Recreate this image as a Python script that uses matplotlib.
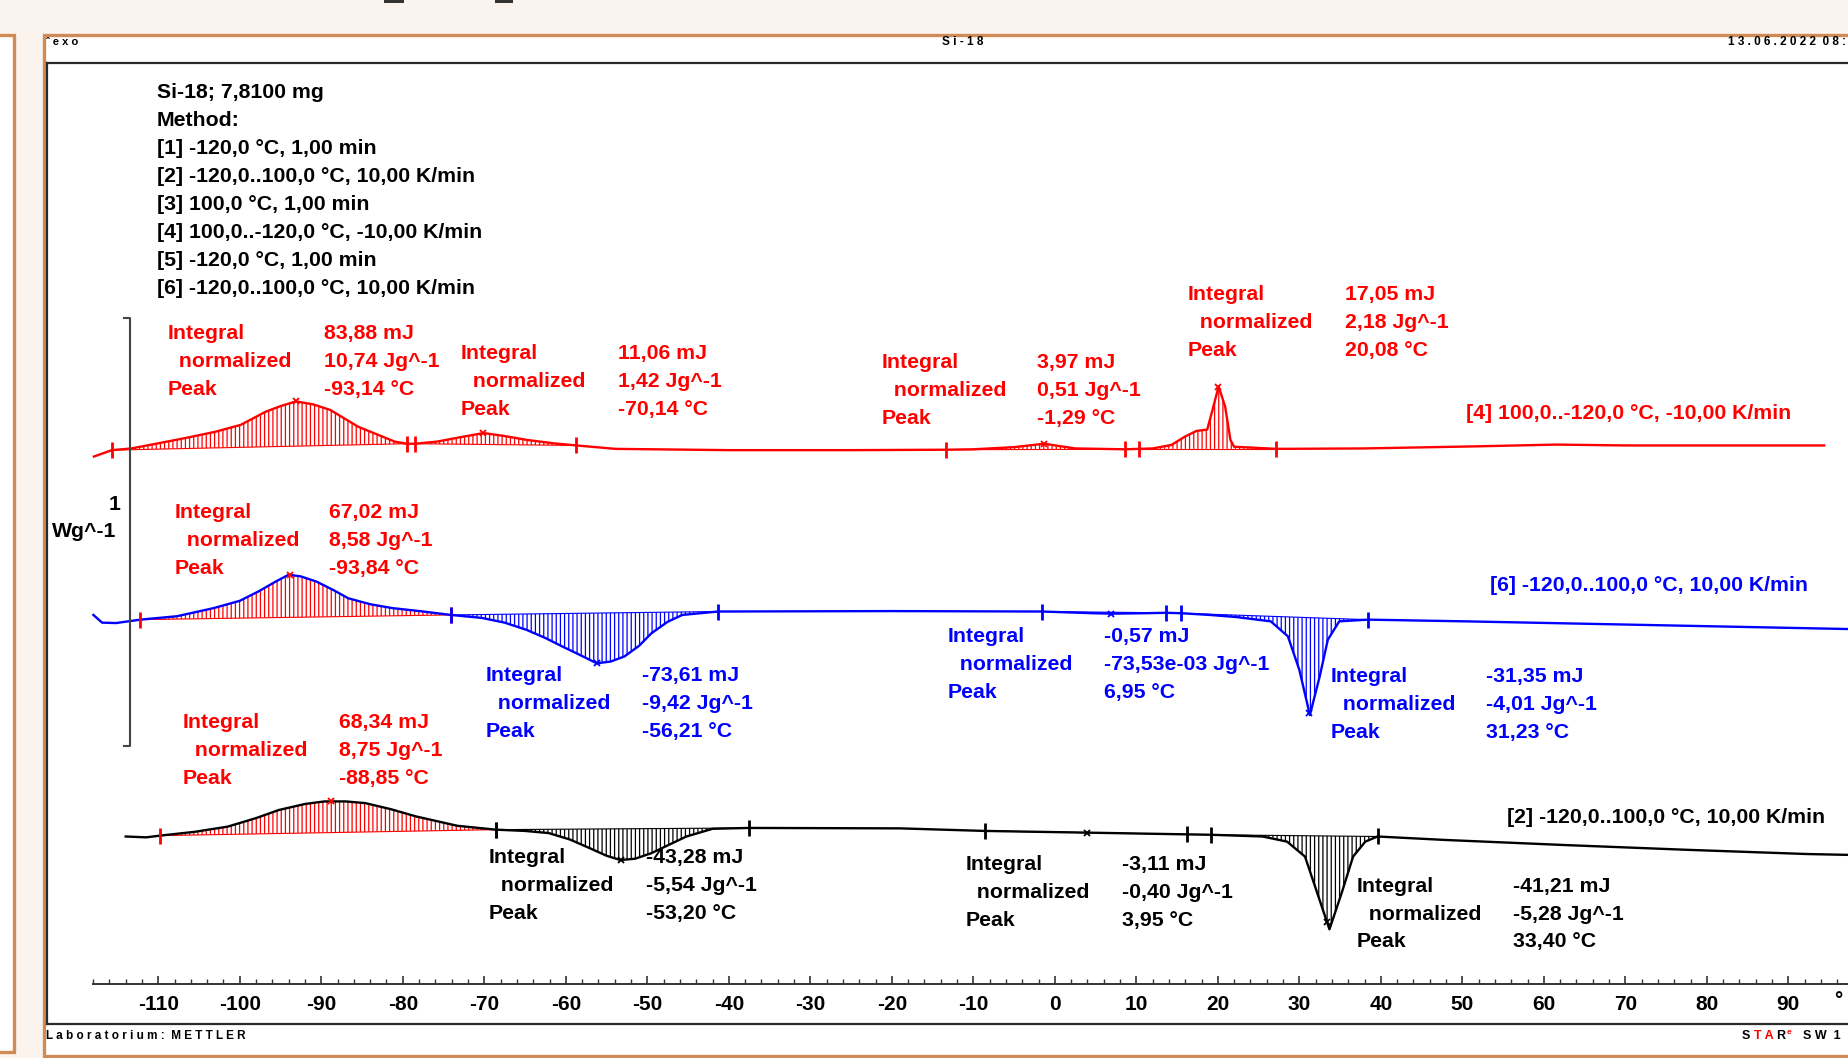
import numpy as np
import matplotlib.pyplot as plt
from matplotlib.patches import Rectangle

plt.rcParams['font.family'] = ['Liberation Sans', 'DejaVu Sans']
plt.rcParams['axes.unicode_minus'] = False
plt.rcParams['hatch.linewidth'] = 0.9

# heat flow in W/g, each curve around its own baseline
# [4] cooling 100..-120 (red)
cool_T = [-117.9, -115.7, -113.3, -110.0, -106.5, -103.0, -99.9, -96.8, -95.0, -93.1,
          -91.0, -88.9, -85.5, -81.0, -79.5, -78.5, -75.8, -73.0, -70.1, -67.5,
          -64.8, -61.5, -58.7, -53.9, -40.0, -25.0, -13.3, -10.0, -5.0, -1.3,
          2.5, 8.6, 10.3, 12.0, 14.3, 16.0, 17.4, 18.7, 19.35, 20.1,
          20.9, 21.55, 22.0, 27.2, 38.0, 52.0, 61.5, 70.0, 80.0, 94.4]
cool_W = [-0.018, -0.003, 0.001, 0.013, 0.026, 0.040, 0.056, 0.087, 0.100, 0.111,
          0.104, 0.091, 0.052, 0.017, 0.012, 0.012, 0.017, 0.027, 0.037, 0.030,
          0.021, 0.013, 0.008, 0.000, -0.003, -0.003, -0.002, -0.001, 0.004, 0.012,
          0.001, -0.001, 0.000, 0.001, 0.009, 0.029, 0.042, 0.045, 0.091, 0.146,
          0.099, 0.021, 0.005, 0.000, 0.001, 0.006, 0.010, 0.008, 0.008, 0.008]

# [6] second heating -120..100 (blue)
heat2_T = [-117.96, -116.9, -115.2, -112.2, -107.7, -103.2, -100.0, -97.7, -95.5, -94.0,
           -92.5, -90.6, -88.5, -86.7, -84.0, -81.3, -77.5, -74.1, -70.3, -67.5,
           -64.8, -62.5, -60.4, -58.0, -56.2, -54.5, -52.8, -51.0, -49.5, -47.5,
           -45.7, -41.3, -20.0, -1.6, 4.7, 7.1, 11.0, 13.7, 15.5, 19.0,
           22.3, 26.5, 28.6, 30.0, 31.3, 32.5, 33.5, 34.9, 38.4, 50.4, 71.4, 100.0]
heat2_W = [-0.008, -0.026, -0.027, -0.019, -0.011, 0.008, 0.025, 0.047, 0.071, 0.086,
           0.082, 0.070, 0.050, 0.031, 0.017, 0.008, 0.000, -0.008, -0.015, -0.026,
           -0.043, -0.062, -0.082, -0.104, -0.121, -0.117, -0.105, -0.080, -0.051, -0.024,
           -0.008, 0.000, 0.001, 0.000, -0.004, -0.005, -0.004, -0.003, -0.004, -0.008,
           -0.013, -0.023, -0.058, -0.136, -0.242, -0.152, -0.066, -0.023, -0.019, -0.023, -0.031, -0.042]

# [2] first heating -120..100 (black)
heat1_T = [-114.0, -111.5, -109.8, -105.5, -101.5, -98.0, -95.2, -92.0, -89.6, -87.0,
           -84.6, -81.5, -78.4, -73.3, -68.6, -65.0, -62.1, -59.5, -57.1, -55.0,
           -53.3, -51.5, -49.5, -47.3, -45.2, -42.0, -37.5, -19.0, -8.6, 4.0,
           16.2, 19.2, 25.5, 28.5, 30.7, 32.2, 33.7, 35.2, 36.6, 38.1,
           39.6, 47.8, 62.6, 77.4, 92.3, 100.0]
heat1_W = [-0.019, -0.021, -0.017, -0.008, 0.004, 0.024, 0.043, 0.057, 0.063, 0.063,
           0.059, 0.045, 0.028, 0.006, -0.003, -0.006, -0.011, -0.026, -0.046, -0.064,
           -0.074, -0.071, -0.058, -0.038, -0.019, -0.001, 0.001, 0.000, -0.006, -0.010,
           -0.014, -0.015, -0.019, -0.031, -0.066, -0.151, -0.236, -0.151, -0.066, -0.031,
           -0.019, -0.027, -0.039, -0.050, -0.060, -0.063]

method_lines = ["Si-18; 7,8100 mg", "Method:",
                "[1] -120,0 °C, 1,00 min",
                "[2] -120,0..100,0 °C, 10,00 K/min",
                "[3] 100,0 °C, 1,00 min",
                "[4] 100,0..-120,0 °C, -10,00 K/min",
                "[5] -120,0 °C, 1,00 min",
                "[6] -120,0..100,0 °C, 10,00 K/min"]

cool_label = "[4] 100,0..-120,0 °C, -10,00 K/min"
heat2_label = "[6] -120,0..100,0 °C, 10,00 K/min"
heat1_label = "[2] -120,0..100,0 °C, 10,00 K/min"

row_names = ["Integral", "  normalized", "Peak"]

# evaluations: (limit lo, limit hi, peak, colour, values)
cool_evals = [
    (-115.7, -79.5, -93.14, 'red', ["83,88 mJ", "10,74 Jg^-1", "-93,14 °C"]),
    (-78.5, -58.7, -70.14, 'red', ["11,06 mJ", "1,42 Jg^-1", "-70,14 °C"]),
    (-13.3, 8.6, -1.29, 'red', ["3,97 mJ", "0,51 Jg^-1", "-1,29 °C"]),
    (10.3, 27.2, 20.08, 'red', ["17,05 mJ", "2,18 Jg^-1", "20,08 °C"]),
]
heat2_evals = [
    (-112.2, -74.1, -93.84, 'red', ["67,02 mJ", "8,58 Jg^-1", "-93,84 °C"]),
    (-74.1, -41.3, -56.21, 'blue', ["-73,61 mJ", "-9,42 Jg^-1", "-56,21 °C"]),
    (-1.6, 13.7, 6.95, 'blue', ["-0,57 mJ", "-73,53e-03 Jg^-1", "6,95 °C"]),
    (15.5, 38.4, 31.23, 'blue', ["-31,35 mJ", "-4,01 Jg^-1", "31,23 °C"]),
]
heat1_evals = [
    (-109.8, -68.6, -88.85, 'red', ["68,34 mJ", "8,75 Jg^-1", "-88,85 °C"]),
    (-68.6, -37.5, -53.20, 'black', ["-43,28 mJ", "-5,54 Jg^-1", "-53,20 °C"]),
    (-8.6, 16.2, 3.95, 'black', ["-3,11 mJ", "-0,40 Jg^-1", "3,95 °C"]),
    (19.2, 39.6, 33.40, 'black', ["-41,21 mJ", "-5,28 Jg^-1", "33,40 °C"]),
]

# where the result tables sit: (name column T, value column T, first row y)
cool_text_pos = [(-108.9, -89.66, 1.614), (-72.88, -53.65, 1.5675),
                 (-21.26, -2.17, 1.5455), (16.34, 35.57, 1.705)]
heat2_text_pos = [(-108.0, -89.08, 1.1956), (-69.85, -50.61, 0.8154),
                  (-13.16, 6.07, 0.9063), (33.84, 52.93, 0.8127)]
heat1_text_pos = [(-107.0, -87.78, 0.7052), (-69.41, -50.18, 0.3884),
                  (-10.99, 8.24, 0.3719), (37.02, 56.25, 0.3223)]

FW, FH = 1848.0, 1058.0
def fx(p):
    return p / FW
def fy(p):
    return 1 - p / FH

PX_C = 8.150      # px per degC
X_ZERO = 1054.8   # px of 0 degC
PX_W = 427.8      # px per W/g
ORANGE = '#D08A55'
FS = 15.3

fig = plt.figure(figsize=(18.48, 10.58), dpi=100, facecolor='#FBF3EE')

# window panels
fig.add_artist(Rectangle((fx(44), fy(1056)), fx(1900) - fx(44), (1056 - 35) / FH,
                         transform=fig.transFigure, facecolor='white', edgecolor=ORANGE,
                         lw=2.4, zorder=-2))
fig.add_artist(Rectangle((fx(-20), fy(1052)), fx(34), (1052 - 35) / FH,
                         transform=fig.transFigure, facecolor='white', edgecolor=ORANGE,
                         lw=2.4, zorder=-2))
for x0, x1 in [(384, 404), (495, 513)]:
    fig.add_artist(Rectangle((fx(x0), fy(3)), fx(x1 - x0), 3 / FH, transform=fig.transFigure,
                             facecolor='#333333', edgecolor='none', zorder=-1))

# main frame
ax_l, ax_t, ax_b = 47.0, 62.5, 1024.0
ax = fig.add_axes([fx(ax_l), fy(ax_b), 1 - fx(ax_l) + 0.02, (ax_b - ax_t) / FH])
ax.set_xlim((ax_l - X_ZERO) / PX_C, (FW + 0.02 * FW - X_ZERO) / PX_C)
ax.set_ylim(0, (ax_b - ax_t) / PX_W)
ax.set_xticks([])
ax.set_yticks([])
for s in ['left', 'top', 'bottom']:
    ax.spines[s].set_color('#2a2a2a')
    ax.spines[s].set_linewidth(1.6)
ax.spines['right'].set_visible(False)

# temperature scale
t_left = -118.0
axT_l = X_ZERO + PX_C * t_left
axT = fig.add_axes([fx(axT_l), fy(984), 1 - fx(axT_l), 0.0005])
axT.set_xlim(t_left, (FW - X_ZERO) / PX_C)
axT.patch.set_alpha(0)
for s in ['left', 'top', 'right']:
    axT.spines[s].set_visible(False)
axT.spines['bottom'].set_color('#333333')
axT.spines['bottom'].set_linewidth(1.4)
axT.set_yticks([])
axT.set_xticks(np.arange(-110, 91, 10))
axT.set_xticks(np.arange(-118, 97, 2), minor=True)
axT.tick_params(axis='x', which='major', direction='in', length=6, width=1.2,
                colors='#333333', labelsize=15, labelcolor='black', pad=8)
axT.tick_params(axis='x', which='minor', direction='in', length=3.5, width=1.0, colors='#333333')
plt.setp(axT.get_xticklabels(), fontweight='bold')
fig.text(fx(1834), fy(1000), '°', fontsize=15, fontweight='bold', va='center')

# curves
curves = [
    (np.array(cool_T), np.array(cool_W), 1.3444, 'red', cool_evals, cool_text_pos, cool_label, (50.47, 1.427)),
    (np.array(heat2_T), np.array(heat2_W), 0.9642, 'blue', heat2_evals, heat2_text_pos, heat2_label, (53.36, 1.0248)),
    (np.array(heat1_T), np.array(heat1_W), 0.4573, 'black', heat1_evals, heat1_text_pos, heat1_label, (55.53, 0.4821)),
]
step = 0.0653
for T, Wv, off, col, evals, tpos, lab, lpos in curves:
    y = Wv + off
    ax.plot(T, y, color=col, lw=1.7, zorder=3)
    for (lo, hi, pk, ecol, vals), (tx, vx, ty) in zip(evals, tpos):
        m = (T >= lo) & (T <= hi)
        xs, ys = T[m], y[m]
        base = np.interp(xs, [xs[0], xs[-1]], [ys[0], ys[-1]])
        ax.fill_between(xs, base, ys, facecolor='none', edgecolor=ecol, hatch='||||',
                        linewidth=0, zorder=2)
        ax.plot([xs[0], xs[-1]], [ys[0], ys[-1]], color=ecol, lw=0.8, zorder=2)
        ax.plot([lo, hi], [ys[0], ys[-1]], ls='none', marker='|', ms=12, mew=2.0,
                color=ecol, zorder=4)
        ax.plot([pk], [np.interp(pk, T, y)], ls='none', marker='x', ms=5, mew=1.3,
                color=ecol, zorder=4)
        for i in range(3):
            ax.text(tx, ty - i * step, row_names[i], color=ecol, fontsize=FS,
                    fontweight='bold', va='center', ha='left')
            ax.text(vx, ty - i * step, vals[i], color=ecol, fontsize=FS,
                    fontweight='bold', va='center', ha='left')
    ax.text(lpos[0], lpos[1], lab, color=col, fontsize=FS, fontweight='bold',
            va='center', ha='left')

# method text
for i, line in enumerate(method_lines):
    ax.text(-110.2, 2.177 - i * 0.0655, line, color='black', fontsize=FS,
            fontweight='bold', va='center', ha='left')

# 1 W/g scale bar
bar_T, bar_lo, bar_len = -113.52, 0.650, 1.0
ax.plot([bar_T - 0.7, bar_T, bar_T, bar_T - 0.7],
        [bar_lo + bar_len, bar_lo + bar_len, bar_lo, bar_lo], color='#444444', lw=1.5, zorder=3)
ax.text(-114.6, 1.2149, '1', fontsize=FS, fontweight='bold', ha='right', va='center')
ax.text(-115.2, 1.1515, 'Wg^-1', fontsize=FS, fontweight='bold', ha='right', va='center')

# header / footer
fig.text(fx(46), fy(42), 'ˆ e x o', fontsize=8, fontweight='bold', va='center')
fig.text(fx(963), fy(42), 'S i - 1 8', fontsize=8.5, fontweight='bold', va='center', ha='center')
fig.text(fx(1846), fy(42), '1 3 . 0 6 . 2 0 2 2  0 8 :', fontsize=8.5, fontweight='bold',
         va='center', ha='right')
fig.text(fx(46), fy(1036), 'L a b o r a t o r i u m :  M E T T L E R', fontsize=8.5,
         fontweight='bold', va='center')
fig.text(fx(1742), fy(1036), 'S', fontsize=9, fontweight='bold', va='center')
fig.text(fx(1754), fy(1036), 'T A', fontsize=9, fontweight='bold', va='center', color='red')
fig.text(fx(1776), fy(1036), 'R', fontsize=9, fontweight='bold', va='center')
fig.text(fx(1787), fy(1033), 'e', fontsize=6, fontweight='bold', va='center', color='red')
fig.text(fx(1803), fy(1036), 'S W  1', fontsize=9, fontweight='bold', va='center')

fig.savefig('out.png', dpi=100, facecolor=fig.get_facecolor())
